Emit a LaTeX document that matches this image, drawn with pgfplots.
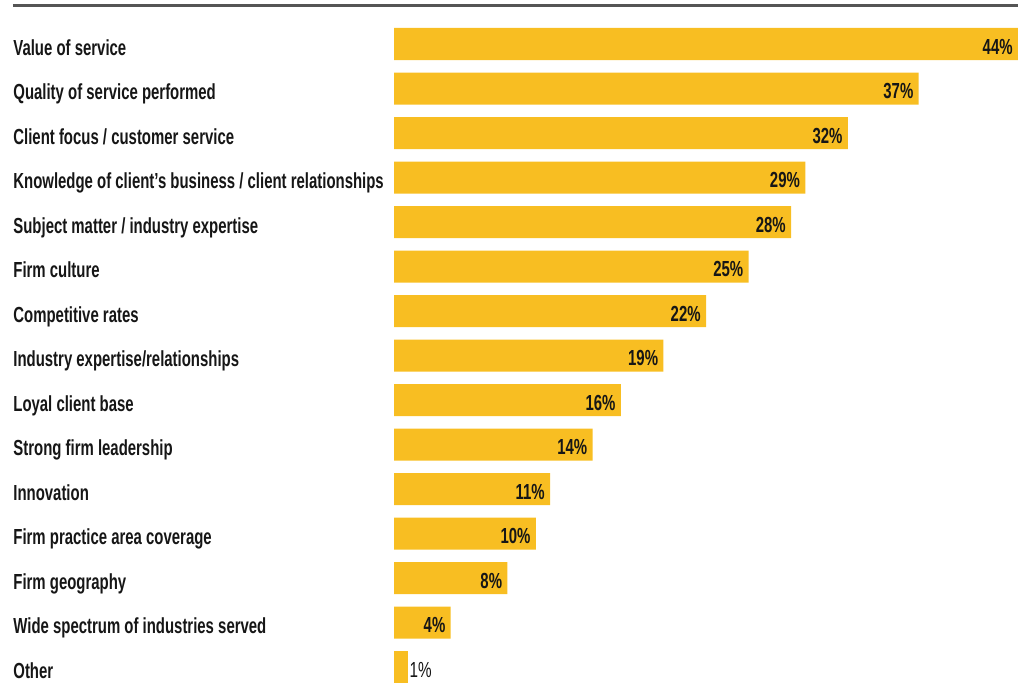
\documentclass[border=0pt]{standalone}
\usepackage{fontspec}
\setmainfont{Liberation Sans}[FakeStretch=0.685]
\newfontfamily\condbold{Liberation Sans Bold}[FakeStretch=0.685]
\newfontfamily\condreg{Liberation Sans}[FakeStretch=0.70]
\usepackage{pgfplots}
\pgfplotsset{compat=1.18}
\usetikzlibrary{calc}
\definecolor{baryellow}{HTML}{F8BE22}
\definecolor{topline}{HTML}{555555}
\definecolor{txt}{HTML}{161616}
\begin{document}
\begin{tikzpicture}
\begin{axis}[
  xbar, bar shift=0pt,
  scale only axis, width=312pt, height=333.75pt,
  xmin=0, xmax=44, ymin=-0.5, ymax=14.5, y dir=reverse,
  axis line style={draw=none}, tick style={draw=none}, major tick length=0pt,
  xtick=\empty, ytick={0,...,14},
  yticklabels={Value of service, Quality of service performed, Client focus / customer service, Knowledge of client’s business / client relationships, Subject matter / industry expertise, Firm culture, Competitive rates, Industry expertise/relationships, Loyal client base, Strong firm leadership, Innovation, Firm practice area coverage, Firm geography, Wide spectrum of industries served, Other},
  yticklabel style={anchor=base west, inner sep=0pt, xshift=-190.5pt, yshift=-5.6pt, font=\condbold\fontsize{10.9pt}{12pt}\selectfont, text=txt},
  /pgf/number format/assume math mode=true,
  bar width=16pt, clip=false,
  point meta=x,
]
\addplot[fill=baryellow, draw=none,
  nodes near coords={\pgfmathprintnumber{\pgfplotspointmeta}\%},
  every node near coord/.append style={anchor=base east, inner sep=0pt, xshift=-2.5pt, yshift=-5pt, font=\condbold\fontsize{10.9pt}{12pt}\selectfont, text=txt}]
  coordinates {(44,0) (37,1) (32,2) (29,3) (28,4) (25,5) (22,6) (19,7) (16,8) (14,9) (11,10) (10,11) (8,12) (4,13)};
\addplot[fill=baryellow, draw=none,
  nodes near coords={\pgfmathprintnumber{\pgfplotspointmeta}\%},
  every node near coord/.append style={anchor=base west, inner sep=0pt, xshift=0.5pt, yshift=-5pt, font=\condreg\fontsize{10.9pt}{12pt}\selectfont, text=txt}]
  coordinates {(1,14)};
\end{axis}
\draw[line width=1.5pt, topline] ($(current axis.north west)+(-190.5pt,8.125pt)$) -- ($(current axis.north east)+(0,8.125pt)$);
\pgfresetboundingbox
\path[use as bounding box] ($(current axis.south west)+(-197pt,-2.875pt)$) rectangle ($(current axis.north east)+(0,10.875pt)$);
\end{tikzpicture}
\end{document}
